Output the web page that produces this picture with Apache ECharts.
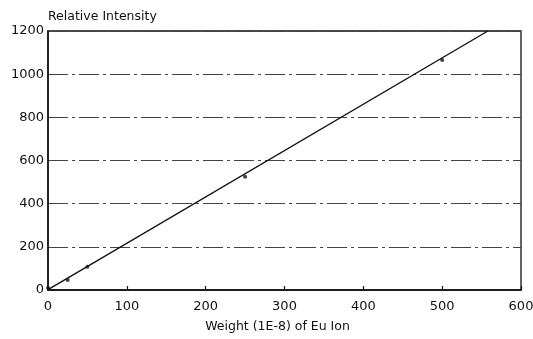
<!DOCTYPE html>
<html>
<head>
<meta charset="utf-8">
<script src="https://cdn.jsdelivr.net/npm/echarts@6/dist/echarts.min.js"></script>
<style>html,body{margin:0;padding:0;background:#fff}#c{width:533px;height:339px}</style>
</head>
<body>
<div id="c"></div>
<script>
var weights = [0, 25, 50, 250, 500];
var intensities = [9, 46, 108, 525, 1066];
var fitWeights = [0, 558];
var fitIntensities = [2, 1200];
var xTicks = [0, 100, 200, 300, 400, 500, 600];
var yTicks = [0, 200, 400, 600, 800, 1000, 1200];

var pts = weights.map(function (w, i) { return [w, intensities[i]]; });
var fit = fitWeights.map(function (w, i) { return [w, fitIntensities[i]]; });
var font = 'DejaVu Sans, sans-serif';

var chart = echarts.init(document.getElementById('c'), null, {renderer: 'canvas'});
chart.setOption({
  animation: false,
  backgroundColor: '#fff',
  grid: {left: 48, right: 12, top: 31, bottom: 49, show: true, borderColor: '#111', borderWidth: 1.3,
    containLabel: false, outerBoundsMode: 'none'},
  xAxis: {
    type: 'value', min: 0, max: 600, interval: 100,
    name: 'Weight (1E-8) of Eu Ion', nameLocation: 'middle', nameGap: 30,
    nameTextStyle: {fontFamily: font, fontSize: 12.5, color: '#111', padding: [0, 14, 0, 0]},
    axisLine: {show: true, lineStyle: {color: '#111', width: 1.5}},
    axisTick: {show: true, inside: true, length: 4, lineStyle: {color: '#111', width: 1.2}},
    axisLabel: {fontFamily: font, fontSize: 13, color: '#111', margin: 10,
      formatter: function (v) { return String(v); }},
    splitLine: {show: false}
  },
  yAxis: {
    type: 'value', min: 0, max: 1200, interval: 200,
    name: 'Relative Intensity', nameLocation: 'end', nameGap: 8,
    nameTextStyle: {fontFamily: font, fontSize: 12.5, color: '#111', align: 'left'},
    axisLine: {show: true, lineStyle: {color: '#111', width: 1.5}},
    axisTick: {show: false},
    axisLabel: {fontFamily: font, fontSize: 13, color: '#111', margin: 4,
      formatter: function (v) { return String(v); }},
    splitLine: {show: true, lineStyle: {color: '#444', width: 1, type: [20, 4, 3, 4]}}
  },
  series: [
    {
      type: 'line', data: fit, symbol: 'none',
      lineStyle: {color: '#111', width: 1.4}, z: 3
    },
    {
      type: 'scatter', data: pts, symbol: 'circle', symbolSize: 4,
      itemStyle: {color: '#111'}, z: 4
    }
  ]
});
</script>
</body>
</html>
